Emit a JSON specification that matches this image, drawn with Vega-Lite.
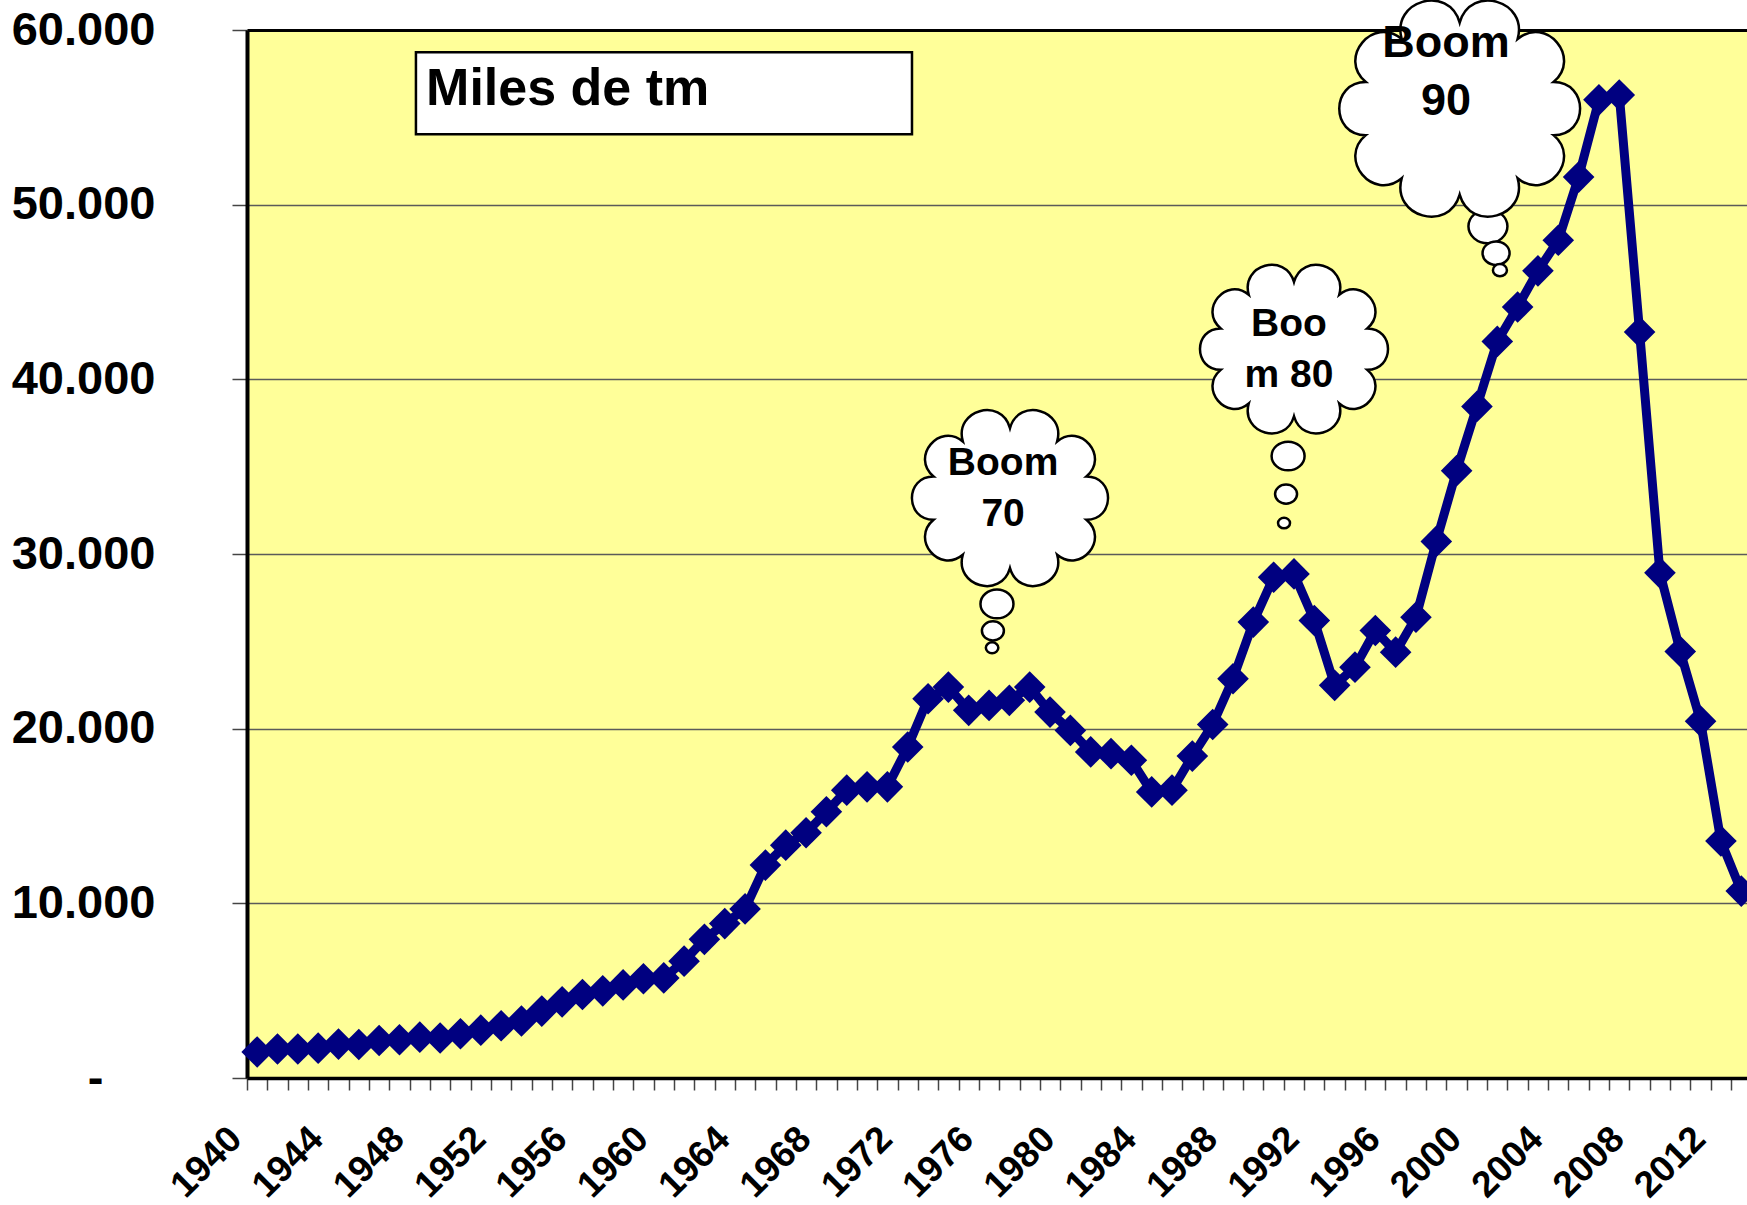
{
  "$schema": "https://vega.github.io/schema/vega-lite/v6.json",
  "width": 1500,
  "height": 1048,
  "autosize": {"type": "none"},
  "padding": {"left": 247, "top": 30, "right": 0, "bottom": 127},
  "background": "white",
  "config": {
    "font": "Liberation Sans",
    "view": {"fill": "#FFFF99", "stroke": null}
  },
  "datasets": {
    "series": [
      {"year": 1940, "value": 1490}, {"year": 1941, "value": 1660}, {"year": 1942, "value": 1660}, {"year": 1943, "value": 1710},
      {"year": 1944, "value": 1940}, {"year": 1945, "value": 1920}, {"year": 1946, "value": 2150}, {"year": 1947, "value": 2190},
      {"year": 1948, "value": 2340}, {"year": 1949, "value": 2290}, {"year": 1950, "value": 2530}, {"year": 1951, "value": 2740},
      {"year": 1952, "value": 2990}, {"year": 1953, "value": 3260}, {"year": 1954, "value": 3830}, {"year": 1955, "value": 4360},
      {"year": 1956, "value": 4780}, {"year": 1957, "value": 4990}, {"year": 1958, "value": 5330}, {"year": 1959, "value": 5680},
      {"year": 1960, "value": 5730}, {"year": 1961, "value": 6690}, {"year": 1962, "value": 7940}, {"year": 1963, "value": 8840},
      {"year": 1964, "value": 9680}, {"year": 1965, "value": 12190}, {"year": 1966, "value": 13330}, {"year": 1967, "value": 14040},
      {"year": 1968, "value": 15240}, {"year": 1969, "value": 16480}, {"year": 1970, "value": 16670}, {"year": 1971, "value": 16670},
      {"year": 1972, "value": 18950}, {"year": 1973, "value": 21710}, {"year": 1974, "value": 22380}, {"year": 1975, "value": 21050},
      {"year": 1976, "value": 21330}, {"year": 1977, "value": 21620}, {"year": 1978, "value": 22380}, {"year": 1979, "value": 20950},
      {"year": 1980, "value": 19900}, {"year": 1981, "value": 18670}, {"year": 1982, "value": 18570}, {"year": 1983, "value": 18190},
      {"year": 1984, "value": 16380}, {"year": 1985, "value": 16480}, {"year": 1986, "value": 18430}, {"year": 1987, "value": 20240},
      {"year": 1988, "value": 22860}, {"year": 1989, "value": 26100}, {"year": 1990, "value": 28670}, {"year": 1991, "value": 28860},
      {"year": 1992, "value": 26190}, {"year": 1993, "value": 22480}, {"year": 1994, "value": 23520}, {"year": 1995, "value": 25620},
      {"year": 1996, "value": 24380}, {"year": 1997, "value": 26380}, {"year": 1998, "value": 30720}, {"year": 1999, "value": 34770},
      {"year": 2000, "value": 38450}, {"year": 2001, "value": 42170}, {"year": 2002, "value": 44140}, {"year": 2003, "value": 46210},
      {"year": 2004, "value": 47960}, {"year": 2005, "value": 51580}, {"year": 2006, "value": 56000}, {"year": 2007, "value": 56280},
      {"year": 2008, "value": 42710}, {"year": 2009, "value": 28920}, {"year": 2010, "value": 24420}, {"year": 2011, "value": 20430},
      {"year": 2012, "value": 13570}, {"year": 2013, "value": 10700}
    ],
    "box": [{"x1": 1947.81, "x2": 1972.21, "y1": 58720, "y2": 54030}],
    "boxtext": [{"label": "Miles de tm", "year": 1948.31, "value": 55720}],
    "clouds": [
      {"boom": "70", "year": 1977.03, "value": 33200},
      {"boom": "80", "year": 1991.0, "value": 41730},
      {"boom": "90", "year": 1999.15, "value": 55500}
    ],
    "bubbles": [
      {"b": "70a", "year": 1976.39, "value": 27140},
      {"b": "70b", "year": 1976.19, "value": 25600},
      {"b": "70c", "year": 1976.15, "value": 24630},
      {"b": "80a", "year": 1990.71, "value": 35610},
      {"b": "80b", "year": 1990.61, "value": 33430},
      {"b": "80c", "year": 1990.51, "value": 31770},
      {"b": "90a", "year": 2000.54, "value": 48760},
      {"b": "90b", "year": 2000.94, "value": 47220},
      {"b": "90c", "year": 2001.13, "value": 46250}
    ],
    "cloudtext": [
      {"boom": "70", "label": "Boom\n70", "year": 1976.69, "value": 34520},
      {"boom": "80", "label": "Boo\nm 80", "year": 1990.75, "value": 42470},
      {"boom": "90", "label": "Boom\n90", "year": 1998.48, "value": 58430}
    ]
  },
  "layer": [
    {
      "data": {"name": "series"},
      "mark": {"type": "line", "color": "#000080", "strokeWidth": 9, "strokeJoin": "round"},
      "encoding": {
        "x": {
          "field": "year", "type": "quantitative",
          "scale": {"domain": [1939.5, 2013.283], "nice": false, "zero": false},
          "axis": {
            "orient": "bottom",
            "values": [1940,1941,1942,1943,1944,1945,1946,1947,1948,1949,1950,1951,1952,1953,1954,1955,1956,1957,1958,1959,1960,1961,1962,1963,1964,1965,1966,1967,1968,1969,1970,1971,1972,1973,1974,1975,1976,1977,1978,1979,1980,1981,1982,1983,1984,1985,1986,1987,1988,1989,1990,1991,1992,1993,1994,1995,1996,1997,1998,1999,2000,2001,2002,2003,2004,2005,2006,2007,2008,2009,2010,2011,2012,2013],
            "tickOffset": -10.165,
            "tickSize": 12,
            "tickColor": "#444444",
            "tickWidth": 1.5,
            "domainColor": "black",
            "domainWidth": 3.5,
            "grid": false,
            "labelExpr": "datum.value % 4 == 0 ? '' + datum.value : ''",
            "labelAngle": -45,
            "labelAlign": "right",
            "labelBaseline": "middle",
            "labelOffset": -11.5,
            "labelPadding": 43,
            "labelFontSize": 37,
            "labelFontWeight": "bold",
            "labelColor": "black",
            "labelOverlap": false,
            "labelFlush": false,
            "labelBound": false,
            "title": null
          }
        },
        "y": {
          "field": "value", "type": "quantitative",
          "scale": {"domain": [0, 60000], "nice": false},
          "axis": {
            "values": [0, 10000, 20000, 30000, 40000, 50000, 60000],
            "grid": true,
            "gridColor": "#5a5a5a",
            "gridWidth": 1.3,
            "tickSize": 15,
            "tickColor": "#444444",
            "tickWidth": 1.5,
            "domainColor": "black",
            "domainWidth": 4,
            "labelExpr": "datum.value == 0 ? '-' : replace(format(datum.value, ','), ',', '.')",
            "labelFontSize": 47,
            "labelFontWeight": "bold",
            "labelColor": "black",
            "labelPadding": {"condition": {"test": "datum.value == 0", "value": 129}, "value": 77},
            "labelFlush": false,
            "title": null
          }
        }
      }
    },
    {
      "data": {"name": "series"},
      "mark": {"type": "point", "shape": "diamond", "filled": true, "size": 1000, "color": "#000080", "opacity": 1},
      "encoding": {
        "x": {"field": "year", "type": "quantitative", "axis": null},
        "y": {"field": "value", "type": "quantitative", "axis": null}
      }
    },
    {
      "data": {"name": "box"},
      "mark": {"type": "rect", "fill": "white", "stroke": "black", "strokeWidth": 2.5},
      "encoding": {
        "x": {"field": "x1", "type": "quantitative", "axis": {"orient": "top", "domainColor": "black", "domainWidth": 3, "ticks": false, "labels": false, "grid": false, "title": null}},
        "x2": {"field": "x2"},
        "y": {"field": "y1", "type": "quantitative", "axis": null},
        "y2": {"field": "y2"}
      }
    },
    {
      "data": {"name": "boxtext"},
      "mark": {"type": "text", "align": "left", "baseline": "alphabetic", "fontSize": 52, "fontWeight": "bold", "color": "black"},
      "encoding": {
        "x": {"field": "year", "type": "quantitative", "axis": null},
        "y": {"field": "value", "type": "quantitative", "axis": null},
        "text": {"field": "label"}
      }
    },
    {
      "data": {"name": "bubbles"},
      "mark": {"type": "point", "shape": "M-1,0A1,0.87 0 1,1 1,0A1,0.87 0 1,1 -1,0Z", "filled": true, "fill": "white", "stroke": "black", "strokeWidth": 2.5, "opacity": 1, "fillOpacity": 1, "strokeOpacity": 1},
      "encoding": {
        "x": {"field": "year", "type": "quantitative", "axis": null},
        "y": {"field": "value", "type": "quantitative", "axis": null},
        "size": {"field": "b", "type": "nominal", "legend": null,
          "scale": {"type": "ordinal", "domain": ["70a","70b","70c","80a","80b","80c","90a","90b","90c"], "range": [1089, 484, 156, 1089, 484, 144, 1521, 729, 196]}}
      }
    },
    {
      "data": {"name": "clouds"},
      "mark": {"type": "point", "shape": "M0,-0.68C0.0867,-0.9853 0.5447,-0.8553 0.458,-0.55C0.6847,-0.7393 0.9687,-0.3993 0.742,-0.21C1.022,-0.21 1.022,0.21 0.742,0.21C0.9687,0.3993 0.6847,0.7393 0.458,0.55C0.5447,0.8553 0.0867,0.9853 0,0.68C-0.0867,0.9853 -0.5447,0.8553 -0.458,0.55C-0.6847,0.7393 -0.9687,0.3993 -0.742,0.21C-1.022,0.21 -1.022,-0.21 -0.742,-0.21C-0.9687,-0.3993 -0.6847,-0.7393 -0.458,-0.55C-0.5447,-0.8553 -0.0867,-0.9853 0,-0.68Z", "filled": true, "fill": "white", "stroke": "black", "strokeWidth": 2.5, "opacity": 1, "fillOpacity": 1, "strokeOpacity": 1},
      "encoding": {
        "x": {"field": "year", "type": "quantitative", "axis": null},
        "y": {"field": "value", "type": "quantitative", "axis": null},
        "size": {"field": "boom", "type": "nominal", "legend": null,
          "scale": {"type": "ordinal", "domain": ["70", "80", "90"], "range": [42436, 39006, 64000]}}
      }
    },
    {
      "data": {"name": "cloudtext"},
      "transform": [{"filter": "datum.boom != '90'"}],
      "mark": {"type": "text", "align": "center", "baseline": "alphabetic", "fontSize": 39, "fontWeight": "bold", "lineBreak": "\n", "lineHeight": 50.5, "color": "black"},
      "encoding": {
        "x": {"field": "year", "type": "quantitative", "axis": null},
        "y": {"field": "value", "type": "quantitative", "axis": null},
        "text": {"field": "label"}
      }
    },
    {
      "data": {"name": "cloudtext"},
      "transform": [{"filter": "datum.boom == '90'"}],
      "mark": {"type": "text", "align": "center", "baseline": "alphabetic", "fontSize": 45, "fontWeight": "bold", "lineBreak": "\n", "lineHeight": 58, "color": "black"},
      "encoding": {
        "x": {"field": "year", "type": "quantitative", "axis": null},
        "y": {"field": "value", "type": "quantitative", "axis": null},
        "text": {"field": "label"}
      }
    }
  ],
  "resolve": {"axis": {"x": "independent", "y": "independent"}, "scale": {"size": "independent"}}
}
